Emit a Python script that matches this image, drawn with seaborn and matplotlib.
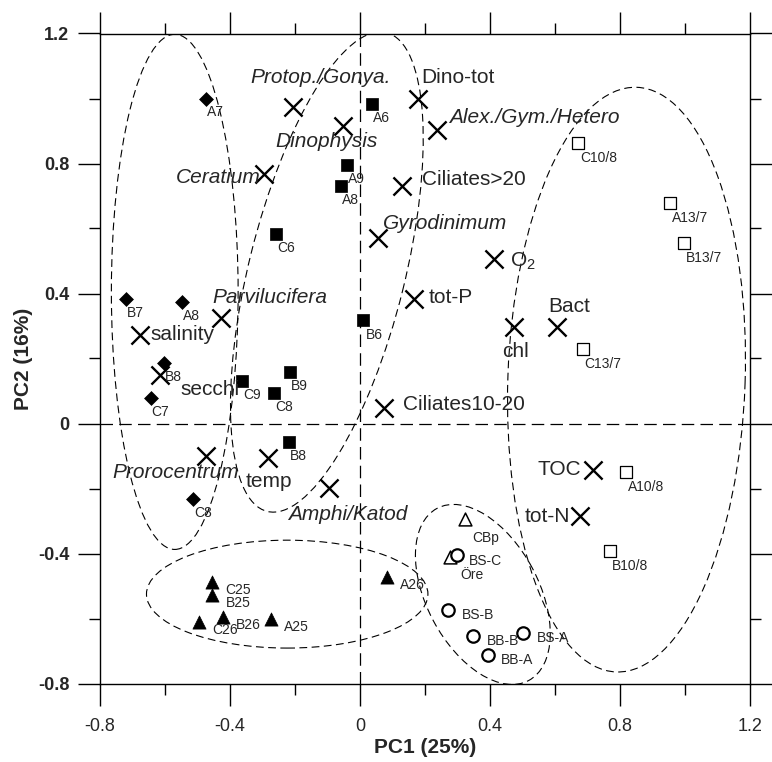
import numpy as np
import pandas as pd
import matplotlib
matplotlib.use("Agg")
import matplotlib.pyplot as plt
from matplotlib.patches import Ellipse
from matplotlib.ticker import MultipleLocator, FuncFormatter
import seaborn as sns

# ---- sample scores (PC1, PC2) ----
diamond_names = ["A7", "B7", "A8", "B8", "C7", "C8"]
diamond_x = [-0.475, -0.720, -0.549, -0.603, -0.644, -0.513]
diamond_y = [1.000, 0.383, 0.374, 0.187, 0.079, -0.233]

square_names = ["A6", "A9", "A8", "C6", "B6", "C9", "B9", "C8", "B8"]
square_x = [0.036, -0.039, -0.058, -0.259, 0.010, -0.362, -0.215, -0.264, -0.218]
square_y = [0.982, 0.795, 0.732, 0.582, 0.318, 0.131, 0.158, 0.095, -0.058]

tri_names = ["C25", "B25", "C26", "B26", "A25", "A26"]
tri_x = [-0.454, -0.454, -0.495, -0.421, -0.275, 0.084]
tri_y = [-0.487, -0.528, -0.610, -0.594, -0.602, -0.473]

open_tri_names = ["CBp", "Öre"]
open_tri_x = [0.323, 0.277]
open_tri_y = [-0.294, -0.410]

circle_names = ["BS-C", "BS-B", "BB-B", "BS-A", "BB-A"]
circle_x = [0.298, 0.272, 0.349, 0.503, 0.393]
circle_y = [-0.405, -0.574, -0.653, -0.646, -0.712]

open_sq_names = ["C10/8", "A13/7", "B13/7", "C13/7", "A10/8", "B10/8"]
open_sq_x = [0.672, 0.954, 0.997, 0.685, 0.818, 0.769]
open_sq_y = [0.864, 0.678, 0.555, 0.228, -0.148, -0.392]

# ---- variable loadings ----
var_names = ["Protop./Gonya.", "Dinophysis", "Ceratium", "Dino-tot", "Alex./Gym./Hetero",
             "Ciliates>20", "Gyrodinimum", r"O$_\mathregular{2}$", "tot-P", "chl", "Bact",
             "Parvilucifera", "salinity", "secchi", "Ciliates10-20", "Prorocentrum",
             "temp", "Amphi/Katod", "TOC", "tot-N"]
var_x = [-0.205, -0.051, -0.294, 0.178, 0.236, 0.128, 0.056, 0.413, 0.166, 0.474, 0.607,
         -0.428, -0.677, -0.615, 0.074, -0.474, -0.284, -0.094, 0.718, 0.677]
var_y = [0.975, 0.915, 0.768, 0.998, 0.903, 0.732, 0.570, 0.505, 0.383, 0.298, 0.296,
         0.324, 0.272, 0.149, 0.048, -0.100, -0.107, -0.199, -0.143, -0.285]

italic_vars = ["Protop./Gonya.", "Dinophysis", "Ceratium", "Alex./Gym./Hetero", "Gyrodinimum",
               "Parvilucifera", "Prorocentrum", "Amphi/Katod"]

# label placement (pixels right/down from the point, alignment)
var_offsets = {
    "Protop./Gonya.": (27, -29, "center"), "Dinophysis": (-17, 15, "center"),
    "Ceratium": (-4, 4, "right"), "Dino-tot": (3, -22, "left"),
    "Alex./Gym./Hetero": (12, -13, "left"), "Ciliates>20": (20, -6, "left"),
    "Gyrodinimum": (5, -15, "left"), r"O$_\mathregular{2}$": (16, 2, "left"),
    "tot-P": (15, -2, "left"), "chl": (1, 25, "center"), "Bact": (12, -21, "center"),
    "Parvilucifera": (-9, -21, "left"), "salinity": (10, -1, "left"),
    "secchi": (20, 14, "left"), "Ciliates10-20": (19, -3, "left"),
    "Prorocentrum": (-30, 16, "center"), "temp": (1, 23, "center"),
    "Amphi/Katod": (18, 26, "center"), "TOC": (-12, 0, "right"), "tot-N": (-10, 0, "right"),
}

sns.set_style("ticks")
plt.rcParams["font.family"] = ["Liberation Sans", "DejaVu Sans"]
plt.rcParams["axes.unicode_minus"] = False
plt.rcParams["mathtext.fontset"] = "custom"
plt.rcParams["mathtext.rm"] = "Liberation Sans"

fig = plt.figure(figsize=(7.72, 7.62), dpi=100)
ax = fig.add_axes([100 / 772, 78.5 / 762, 650 / 772, 650 / 762])

# grouping ellipses
ell_kw = dict(fill=False, edgecolor="black", linewidth=0.8, linestyle=(0, (7, 4)), zorder=1)
ax.add_patch(Ellipse((-0.57, 0.405), 0.39, 1.585, angle=0, **ell_kw))
ax.add_patch(Ellipse((-0.102, 0.466), 1.518, 0.48, angle=76, **ell_kw))
ax.add_patch(Ellipse((0.82, 0.135), 1.80, 0.73, angle=88, **ell_kw))
ax.add_patch(Ellipse((-0.224, -0.525), 0.866, 0.332, angle=0, **ell_kw))
ax.add_patch(Ellipse((0.378, -0.526), 0.60, 0.345, angle=118, **ell_kw))

ax.axhline(0, color="black", lw=0.9, ls=(0, (10, 5)), zorder=1)
ax.axvline(0, color="black", lw=0.9, ls=(0, (10, 5)), zorder=1)

groups = [
    (diamond_names, diamond_x, diamond_y, dict(marker="D", s=50, color="black", edgecolor="black", linewidth=0.5), (1, 14)),
    (square_names, square_x, square_y, dict(marker="s", s=80, color="black", edgecolor="black", linewidth=0.5), (1, 14)),
    (tri_names, tri_x, tri_y, dict(marker="^", s=90, color="black", edgecolor="black", linewidth=0.5), (13, 8)),
    (open_tri_names, open_tri_x, open_tri_y, dict(marker="^", s=85, color="black", facecolor="white", edgecolor="black", linewidth=1.1), None),
    (circle_names, circle_x, circle_y, dict(marker="o", s=80, color="black", facecolor="white", edgecolor="black", linewidth=1.6), (13, 5)),
    (open_sq_names, open_sq_x, open_sq_y, dict(marker="s", s=80, color="black", facecolor="white", edgecolor="black", linewidth=0.9), (2, 15)),
]
special = {"CBp": (7, 19), "Öre": (10, 18), "B6": (3, 15), "BS-C": (12, 6)}

for names, xs, ys, kw, off in groups:
    df = pd.DataFrame({"x": xs, "y": ys, "name": names})
    sns.scatterplot(data=df, x="x", y="y", ax=ax, zorder=3, legend=False, **kw)
    for n, x, y in zip(names, xs, ys):
        dx, dy = special.get(n, off)
        ax.annotate(n, (x, y), xytext=(dx, -dy), textcoords="offset pixels",
                    ha="left", va="center", fontsize=10, zorder=4)

vdf = pd.DataFrame({"x": var_x, "y": var_y, "name": var_names})
sns.scatterplot(data=vdf, x="x", y="y", ax=ax, marker="x", s=170, color="black",
                linewidth=1.7, zorder=3, legend=False)
for n, x, y in zip(var_names, var_x, var_y):
    dx, dy, ha = var_offsets[n]
    ax.annotate(n, (x, y), xytext=(dx, -dy), textcoords="offset pixels", ha=ha, va="center",
                fontsize=15, style="italic" if n in italic_vars else "normal", zorder=4)

ax.set_xlim(-0.8, 1.2)
ax.set_ylim(-0.8, 1.2)
fmt = FuncFormatter(lambda v, p: "0" if abs(v) < 1e-9 else f"{v:.1f}")
for a in (ax.xaxis, ax.yaxis):
    a.set_major_locator(MultipleLocator(0.4))
    a.set_minor_locator(MultipleLocator(0.2))
    a.set_major_formatter(fmt)
ax.tick_params(which="both", direction="out", top=True, right=True, width=1.0, color="black")
ax.tick_params(which="major", length=16)
ax.tick_params(which="minor", length=8)
ax.tick_params(axis="x", labelsize=13, pad=9)
ax.tick_params(axis="y", labelsize=13, pad=6)
for lab in ax.get_yticklabels():
    lab.set_fontweight("bold")
for sp in ax.spines.values():
    sp.set_linewidth(1.0)
    sp.set_color("black")

ax.set_xlabel("PC1 (25%)", fontsize=15, fontweight="bold", labelpad=2)
ax.set_ylabel("PC2 (16%)", fontsize=15, fontweight="bold", labelpad=4)

fig.savefig("out.png", dpi=100)
